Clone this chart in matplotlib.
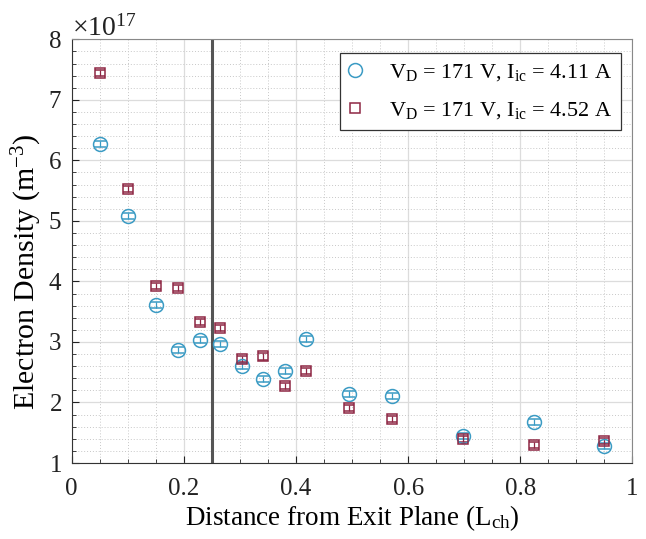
import numpy as np
import matplotlib
matplotlib.use("Agg")
import matplotlib.pyplot as plt
from matplotlib.lines import Line2D
from matplotlib.ticker import MultipleLocator, ScalarFormatter

plt.rcParams['font.family'] = 'Liberation Serif'
plt.rcParams['mathtext.fontset'] = 'custom'
plt.rcParams['mathtext.rm'] = 'Liberation Serif'
plt.rcParams['mathtext.it'] = 'Liberation Serif:italic'
plt.rcParams['mathtext.bf'] = 'Liberation Serif:bold'

# axial positions (channel lengths from exit plane)
position = [0.05, 0.10, 0.15, 0.19, 0.228, 0.265, 0.303, 0.341, 0.38, 0.418,
            0.494, 0.571, 0.697, 0.824, 0.95]

# electron density, units of 1e17 m^-3
density_411 = [6.27, 5.08, 3.61, 2.87, 3.03, 2.96, 2.60, 2.39, 2.52, 3.05,
               2.14, 2.11, 1.44, 1.68, 1.28]
density_452 = [7.45, 5.52, 3.92, 3.89, 3.33, 3.23, 2.72, 2.76, 2.27, 2.52,
               1.91, 1.73, 1.39, 1.30, 1.37]
err_411 = 0.05
err_452 = 0.05

label_411 = r'V$_{\rm D}$ = 171 V, I$_{\rm ic}$ = 4.11 A'
label_452 = r'V$_{\rm D}$ = 171 V, I$_{\rm ic}$ = 4.52 A'

blue = '#3b9bc4'
red = '#8e2744'

fig = plt.figure(figsize=(6.46, 5.39), dpi=100)
ax = fig.add_axes([0.111, 0.141, 0.868, 0.786])

x = np.array(position)
n1 = np.array(density_411) * 1e17
n2 = np.array(density_452) * 1e17

ax.errorbar(x, n1, yerr=err_411 * 1e17, fmt='o', mfc='none', mec=blue,
            ecolor=blue, ms=10, mew=1.1, elinewidth=0.9, capsize=4.5,
            capthick=0.9, zorder=3)
ax.errorbar(x, n2, yerr=err_452 * 1e17, fmt='s', mfc='none', mec=red,
            ecolor=red, ms=7.5, mew=1.1, elinewidth=0.9, capsize=3.8,
            capthick=0.9, zorder=3)

# exit-plane reference line
ax.axvline(0.25, color='#555555', lw=2.2, zorder=2)

ax.set_xlim(0, 1)
ax.set_ylim(1e17, 8e17)
ax.xaxis.set_major_locator(MultipleLocator(0.2))
ax.xaxis.set_minor_locator(MultipleLocator(0.05))
ax.yaxis.set_major_locator(MultipleLocator(1e17))
ax.yaxis.set_minor_locator(MultipleLocator(0.2e17))

fmt = ScalarFormatter(useMathText=True)
fmt.set_powerlimits((0, 0))
ax.yaxis.set_major_formatter(fmt)
ax.xaxis.set_major_formatter(plt.FuncFormatter(lambda v, p: f'{v:g}'))

ax.grid(which='major', color='#dcdcdc', lw=0.9, ls='-')
ax.grid(which='minor', color='#c8c8c8', lw=0.7, ls=(0, (1, 2)))
ax.set_axisbelow(True)

ax.tick_params(which='both', direction='in', top=False, right=False,
               labelsize=18, colors='#222222')
ax.tick_params(which='major', length=5)
ax.tick_params(axis='x', which='major', pad=11)
ax.tick_params(axis='y', which='major', pad=7)
ax.tick_params(which='minor', length=3)
ax.yaxis.get_offset_text().set_fontsize(20)

for side in ['left', 'bottom']:
    ax.spines[side].set_color('#333333')
for side in ['top', 'right']:
    ax.spines[side].set_color('#888888')

ax.set_xlabel(r'Distance from Exit Plane (L$_{\rm ch}$)', fontsize=19.5, labelpad=2)
ax.set_ylabel(r'Electron Density (m$^{-3}$)', fontsize=21.5)
ax.yaxis.set_label_coords(-0.05, 0.45)

handles = [
    Line2D([], [], ls='none', marker='o', mfc='none', mec=blue, ms=10, mew=1.1),
    Line2D([], [], ls='none', marker='s', mfc='none', mec=red, ms=7, mew=1.1),
]
leg = ax.legend(handles, [label_411, label_452], loc='upper right',
                fontsize=16, frameon=True, fancybox=False,
                edgecolor='#333333', framealpha=1, borderpad=0.4,
                labelspacing=0.75, handletextpad=1.3, handlelength=0.5,
                borderaxespad=0, bbox_to_anchor=(0.98, 0.967))
leg.get_frame().set_linewidth(0.9)

fig.savefig('out.png', dpi=100)
